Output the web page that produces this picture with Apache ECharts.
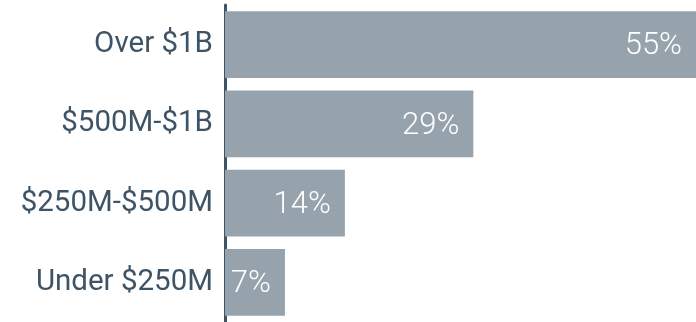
<!DOCTYPE html>
<html><head><meta charset="utf-8">
<script src="https://cdn.jsdelivr.net/npm/echarts@6/dist/echarts.min.js"></script>
<style>html,body{margin:0;padding:0;background:#fff}#c{width:696px;height:322px}</style>
</head><body><div id="c"></div>
<script>
const categories = ['Over $1B', '$500M-$1B', '$250M-$500M', 'Under $250M'];
const values = [55, 29, 14, 7];

const chart = echarts.init(document.getElementById('c'), null, {renderer: 'canvas'});
chart.setOption({
  animation: false,
  grid: {left: 225, right: -2, top: 5, bottom: -3, containLabel: false},
  xAxis: {type: 'value', min: 0, max: 55, show: false},
  yAxis: {
    type: 'category', data: categories, inverse: true,
    axisLine: {show: true, lineStyle: {color: '#3e5466', width: 3}},
    axisTick: {show: false},
    axisLabel: {color: '#3e5466', fontSize: 29.5, fontFamily: 'Roboto', fontWeight: 400, margin: 12}
  },
  series: [{
    type: 'bar', data: values, barCategoryGap: '16%',
    itemStyle: {color: '#97a3ac'},
    label: {show: true, position: 'insideRight', distance: 14, color: '#fff', fontSize: 31, fontFamily: 'Roboto', fontWeight: 300,
      offset: [0, 2], formatter: p => p.value + '%'}
  }]
});
</script></body></html>
